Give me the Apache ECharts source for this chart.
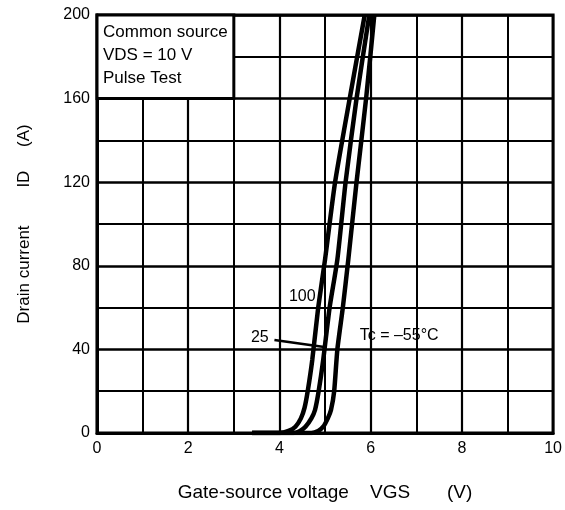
<!DOCTYPE html>
<html>
<head>
<meta charset="utf-8">
<script src="https://cdn.jsdelivr.net/npm/echarts@6/dist/echarts.min.js"></script>
<style>html,body{margin:0;padding:0;background:#fff;}#c{width:565px;height:510px;}</style>
</head>
<body>
<div id="c"></div>
<script>
// Transfer characteristics I_D vs V_GS at three case temperatures
var xTicks = [0, 2, 4, 6, 8, 10];
var yTicks = [0, 40, 80, 120, 160, 200];

var vgs100 = [3.4, 4.0, 4.2, 4.35, 4.47, 4.55, 4.62, 4.72, 4.85, 5.0, 5.22, 5.54, 5.87];
var id100  = [0,   0,   1,   3,    7,    12,   20,   35,   60,   83,  120,  160,  200];

var vgs25 = [3.4, 4.3, 4.45, 4.57, 4.7, 4.78, 4.86, 4.96, 5.1, 5.27, 5.45, 5.69, 5.97];
var id25  = [0,   0,   1,    3,    7,   11,   20,   35,   60,  83,   120,  160,  200];

var vgsM55 = [3.4, 4.7, 4.85, 4.96, 5.06, 5.13, 5.2, 5.27, 5.39, 5.51, 5.69, 5.9, 6.08];
var idM55  = [0,   0,   1,    3,    7,    11,   20,  40,   60,   83,   120,  160, 200];

var seriesNames = ['100', '25', 'Tc = –55°C'];
var noteLines = ['Common source', 'VDS = 10 V', 'Pulse Test'];

function zip(a, b) { return a.map(function (v, i) { return [v, b[i]]; }); }

var FONT = 'Liberation Sans, Arial, sans-serif';
var chart = echarts.init(document.getElementById('c'), null, {renderer: 'canvas'});

function curve(name, xs, ys, extra) {
  var s = {
    name: name,
    type: 'line',
    data: zip(xs, ys),
    smooth: 0.2,
    showSymbol: false,
    symbol: 'none',
    clip: true,
    lineStyle: {color: '#000', width: 4.5},
    z: 5
  };
  for (var k in extra) s[k] = extra[k];
  return s;
}

var labelStyle = {show: true, color: '#000', fontFamily: FONT, fontSize: 16};

chart.setOption({
  animation: false,
  backgroundColor: '#fff',
  grid: {left: 97, right: 8, top: 15, bottom: 77, show: true, borderColor: '#000', borderWidth: 3, backgroundColor: 'transparent'},
  xAxis: {
    type: 'value', min: 0, max: 10, interval: 2,
    name: 'Gate-source voltage    VGS       (V)',
    nameLocation: 'middle', nameGap: 50,
    nameTextStyle: {color: '#000', fontFamily: FONT, fontSize: 19},
    axisLine: {show: true, lineStyle: {color: '#000', width: 3}},
    axisTick: {show: false},
    axisLabel: {color: '#000', fontFamily: FONT, fontSize: 16, margin: 8,
      formatter: function (v) { return xTicks.indexOf(v) >= 0 ? String(v) : ''; }},
    splitLine: {show: true, lineStyle: {color: '#000', width: 2.2}},
    minorTick: {show: false, splitNumber: 2},
    minorSplitLine: {show: true, lineStyle: {color: '#000', width: 2}}
  },
  yAxis: {
    type: 'value', min: 0, max: 200, interval: 40,
    name: 'Drain current        ID     (A)',
    nameLocation: 'middle', nameGap: 64,
    nameTextStyle: {color: '#000', fontFamily: FONT, fontSize: 17},
    axisLine: {show: true, lineStyle: {color: '#000', width: 3}},
    axisTick: {show: false},
    axisLabel: {color: '#000', fontFamily: FONT, fontSize: 16, margin: 7,
      formatter: function (v) { return yTicks.indexOf(v) >= 0 ? String(v) : ''; }},
    splitLine: {show: true, lineStyle: {color: '#000', width: 2.6}},
    minorTick: {show: false, splitNumber: 2},
    minorSplitLine: {show: true, lineStyle: {color: '#000', width: 2}}
  },
  series: [
    curve(seriesNames[0], vgs100, id100, {
      markPoint: {
        symbol: 'circle', symbolSize: 0, silent: true,
        label: labelStyle,
        data: [
          {coord: [4.5, 65.5], value: seriesNames[0], label: {position: 'inside', formatter: seriesNames[0]}},
          {coord: [0, 200], value: 'note', label: {position: [0, 0], align: 'left', verticalAlign: 'top',
            offset: [6, 6], fontSize: 17, lineHeight: 23, formatter: noteLines.join('\n')}}
        ]
      },
      markArea: {
        silent: true,
        itemStyle: {color: '#fff', borderColor: '#000', borderWidth: 3},
        label: {show: false},
        data: [[{coord: [0, 200]}, {coord: [3, 160]}]]
      }
    }),
    curve(seriesNames[1], vgs25, id25, {
      markPoint: {
        symbol: 'circle', symbolSize: 0, silent: true,
        label: labelStyle,
        data: [{coord: [3.57, 45.5], value: seriesNames[1], label: {position: 'inside', formatter: seriesNames[1]}}]
      },
      markLine: {
        silent: true, symbol: 'none',
        lineStyle: {color: '#000', width: 2.5, type: 'solid'},
        label: {show: false},
        data: [[{coord: [3.89, 44.5]}, {coord: [5.02, 41]}]]
      }
    }),
    curve(seriesNames[2], vgsM55, idM55, {
      markPoint: {
        symbol: 'circle', symbolSize: 0, silent: true,
        label: labelStyle,
        data: [{coord: [5.76, 46.4], value: seriesNames[2], label: {position: 'right', distance: 0, formatter: seriesNames[2]}}]
      }
    })
  ]
});
</script>
</body>
</html>
